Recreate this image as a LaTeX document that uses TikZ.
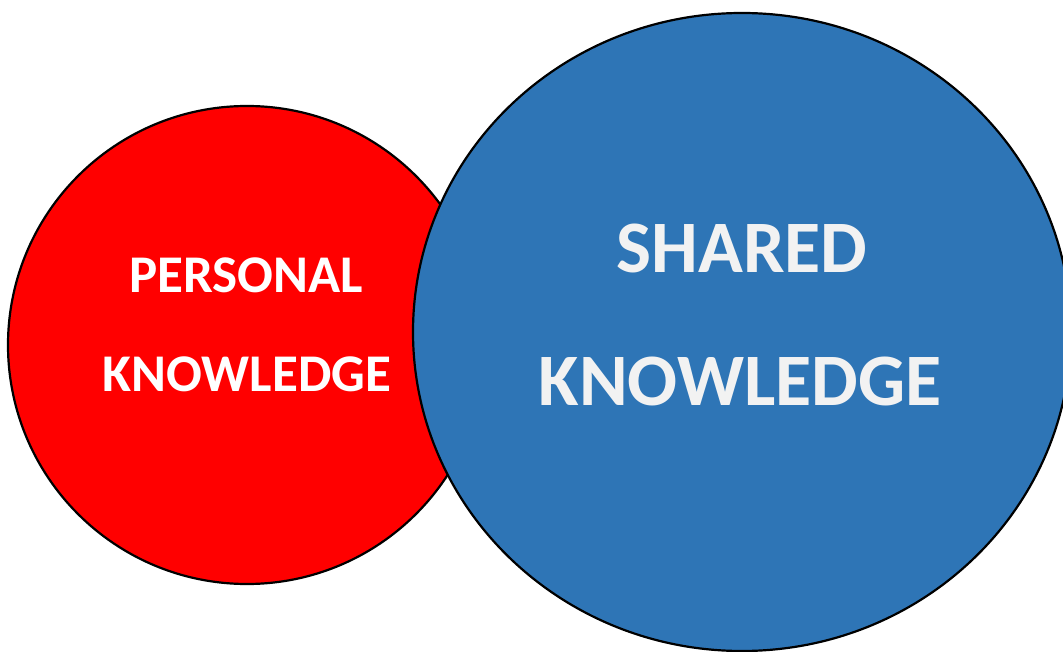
\documentclass[tikz,border=0pt]{standalone}
\usepackage{fontspec}
\setmainfont{Carlito}
\definecolor{redfill}{RGB}{255,0,0}
\definecolor{bluefill}{RGB}{46,117,182}
\definecolor{lighttext}{RGB}{242,242,242}
\tikzset{
  bubble/.style={line width=2.2pt, draw=black},
  smalllabel/.style={anchor=base, text=white, font=\bfseries\fontsize{53}{53}\selectfont, inner sep=0pt},
  biglabel/.style={anchor=base, text=lighttext, font=\bfseries\fontsize{74}{74}\selectfont, inner sep=0pt}
}
\begin{document}
\begin{tikzpicture}[x=1pt,y=-1pt]
\useasboundingbox (0,0) rectangle (1063,652);
\clip (0,0) rectangle (1063,652);
\fill[white] (0,0) rectangle (1063,652);
\draw[bubble, fill=redfill] (247,345) circle[radius=239];
\draw[bubble, fill=bluefill] (742,332) ellipse[x radius=329, y radius=319];
\node[smalllabel] (p1) at (246,293) {PERSONAL};
\node[smalllabel] (p2) at (247,391) {KNOWLEDGE};
\node[biglabel] (s1) at (742,273) {SHARED};
\node[biglabel] (s2) at (740,405) {KNOWLEDGE};
\end{tikzpicture}
\end{document}
